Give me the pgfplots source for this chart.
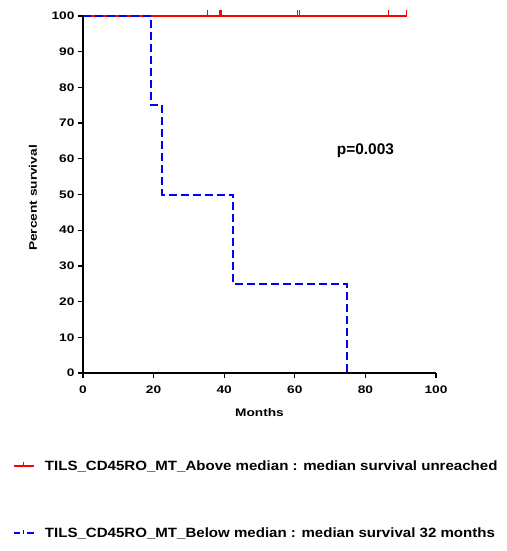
\documentclass[border=0pt]{standalone}
\usepackage{pgfplots}
\pgfplotsset{compat=1.18}
\usepackage{fontspec}
\setmainfont{Liberation Sans}
\newfontfamily\widefont[FakeStretch=1.25]{Liberation Sans}
\newfontfamily\legfont[FakeStretch=1.12]{Liberation Sans}
\definecolor{kmred}{RGB}{255,0,0}
\definecolor{kmblue}{RGB}{0,0,255}
\begin{document}
\begin{tikzpicture}
\begin{axis}[
  scale only axis,
  width=353bp, height=357bp,
  xmin=0, xmax=100, ymin=0, ymax=100,
  axis x line*=bottom, axis y line*=left,
  axis line style={line width=1.2bp, black},
  xtick={0,20,40,60,80,100},
  ytick={0,10,20,30,40,50,60,70,80,90,100},
  tick align=outside,
  major tick length=5bp,
  tick style={line width=1.2bp, black},
  /pgf/number format/assume math mode=true,
  tick label style={font=\widefont\bfseries\fontsize{11}{11}\selectfont},
  xticklabel style={yshift=-4bp},
  xlabel={Months}, ylabel={Percent survival},
  label style={font=\widefont\bfseries\fontsize{11}{11}\selectfont},
  xlabel style={at={(axis description cs:0.5,-0.11)}, anchor=center},
  ylabel style={at={(axis description cs:-0.142,0.49)}, anchor=center},
  clip=false,
  legend style={at={(-0.207,-0.233)}, anchor=north west, draw=none, fill=none,
    font=\legfont\bfseries\fontsize{13.5}{13.5}\selectfont, row sep=52bp, column sep=4bp},
  legend cell align=left,
]
\addplot[kmred, line width=1.6bp, forget plot] coordinates {(0,100) (91.7,100)};
\addplot[kmred, only marks, mark=|, mark size=2.8bp, line width=1.1bp,
  mark options={yshift=2.8bp, draw=kmred}, forget plot]
  coordinates {(35.3,100) (38.6,100) (39.1,100) (60.8,100) (61.4,100) (86.5,100) (91.7,100)};
\addplot[kmblue, line width=2bp, dash pattern=on 8bp off 4bp, const plot, forget plot]
  coordinates {(0,100) (19.3,75) (22.3,50) (42.4,25) (74.7,0)};
\addlegendimage{legend image code/.code={
  \path[draw=none, fill=none] (0bp,-3bp) rectangle (25bp,3bp);
  \draw[kmred, line width=1.6bp] (0bp,0bp) -- (20bp,0bp);
  \draw[kmred, line width=1bp] (10bp,0bp) -- (10bp,4bp);}}
\addlegendentry{TILS\_CD45RO\_MT\_Above median : median survival unreached}
\addlegendimage{legend image code/.code={
  \path[draw=none, fill=none] (0bp,-3bp) rectangle (25bp,3bp);
  \draw[kmblue, line width=1.6bp] (0bp,0bp) -- (6bp,0bp);
  \draw[kmblue, line width=1.6bp] (13bp,0bp) -- (20bp,0bp);
  \draw[kmblue, line width=1bp] (10bp,-1bp) -- (10bp,3bp);}}
\addlegendentry{TILS\_CD45RO\_MT\_Below median : median survival 32 months}
\node[font=\bfseries\fontsize{15.5}{15.5}\selectfont] at (axis cs:80,62.3) {p=0.003};
\end{axis}
\pgfresetboundingbox
\path[use as bounding box] (-83bp,-178bp) rectangle (424bp,373bp);
\end{tikzpicture}
\end{document}
